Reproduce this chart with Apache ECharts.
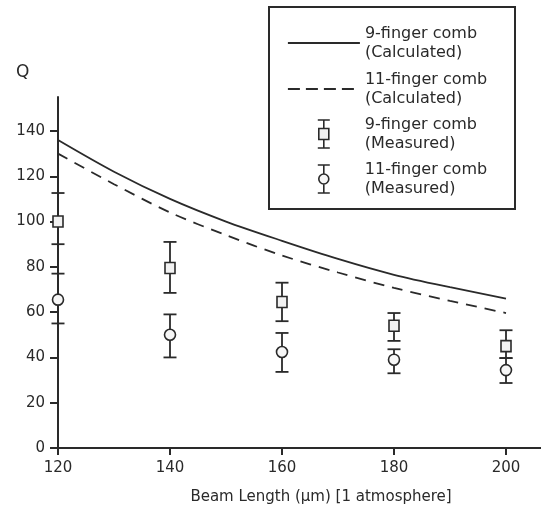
<!DOCTYPE html>
<html>
<head>
<meta charset="utf-8">
<script src="https://cdn.jsdelivr.net/npm/echarts@6/dist/echarts.min.js"></script>
<style>html,body{margin:0;padding:0;background:#fff;}#c{width:541px;height:513px;}</style>
</head>
<body>
<div id="c"></div>
<script>
// Calculated curves
const calcX = [120, 130, 140, 150, 160, 170, 180, 190, 200];
const nineCalc = [136, 122, 110, 100, 91.5, 83.5, 76.5, 71, 66];
const elevenCalc = [130, 116.5, 104, 94, 85, 77.5, 70.7, 65, 59.6];
// Measured points with error bars
const measX = [120, 140, 160, 180, 200];
const nineMeas = [100, 79.5, 64.5, 54, 45];
const nineLow = [90, 68.5, 56, 47.3, 39.7];
const nineHigh = [112.6, 91, 73, 59.6, 52];
const elevenMeas = [65.5, 50, 42.4, 39, 34.4];
const elevenLow = [55, 40, 33.6, 33, 28.7];
const elevenHigh = [77, 59, 50.8, 43.6, 39.7];
// Ticks
const xTicks = [120, 140, 160, 180, 200];
const yTicks = [0, 20, 40, 60, 80, 100, 120, 140];

const names = ['9-finger comb\n(Calculated)', '11-finger comb\n(Calculated)', '9-finger comb\n(Measured)', '11-finger comb\n(Measured)'];
const ink = '#2a2a2a';
const font = 'DejaVu Sans';

function errItem(shape) {
  return function (params, api) {
    const x = api.value(0);
    const p = api.coord([x, api.value(1)]);
    const pl = api.coord([x, api.value(2)]);
    const ph = api.coord([x, api.value(3)]);
    const cw = 6.5;
    const st = { stroke: ink, lineWidth: 1.8, fill: null };
    const children = [
      { type: 'line', shape: { x1: pl[0], y1: pl[1], x2: ph[0], y2: ph[1] }, style: st },
      { type: 'line', shape: { x1: pl[0] - cw, y1: pl[1], x2: pl[0] + cw, y2: pl[1] }, style: st },
      { type: 'line', shape: { x1: ph[0] - cw, y1: ph[1], x2: ph[0] + cw, y2: ph[1] }, style: st }
    ];
    if (shape === 'rect') {
      children.push({ type: 'rect', shape: { x: p[0] - 5, y: p[1] - 5.5, width: 10, height: 11 }, style: { stroke: ink, lineWidth: 1.6, fill: '#f2f2f2' } });
    } else {
      children.push({ type: 'circle', shape: { cx: p[0], cy: p[1], r: 5.5 }, style: { stroke: ink, lineWidth: 1.6, fill: '#f7f7f7' } });
    }
    return { type: 'group', children: children };
  };
}

// Legend icon paths in 72x30 box (corner moves fix the box)
const sqIcon = 'path://M0 0M72 30M30 1L42 1M36 1L36 9.5M31 9.5L41 9.5L41 20.5L31 20.5ZM36 20.5L36 29M30 29L42 29';
const ciIcon = 'path://M0 0M72 30M30 1L42 1M36 1L36 10M36 20L36 29M30 29L42 29M41 15A5 5 0 1 1 31 15A5 5 0 1 1 41 15Z';

const chart = echarts.init(document.getElementById('c'), null, { renderer: 'canvas' });
const legendText = { fontFamily: font, fontSize: 16, color: ink, lineHeight: 19 };
const hiddenSym = { color: 'rgba(0,0,0,0)', borderColor: 'rgba(0,0,0,0)', borderWidth: 0, opacity: 0 };
function lg(i, top, extra) {
  return Object.assign({
    left: 287, top: top, orient: 'vertical', padding: 0, selectedMode: false,
    itemWidth: 72, itemHeight: 14, textStyle: legendText, data: [names[i]]
  }, extra || {});
}

chart.setOption({
  animation: false,
  backgroundColor: '#fff',
  grid: { left: 58, right: 0, top: 97, bottom: 65 },
  xAxis: {
    type: 'value', min: 120, max: 206.25,
    axisLine: { lineStyle: { color: ink, width: 2 } },
    axisTick: { length: 7, lineStyle: { color: ink, width: 2 }, customValues: xTicks },
    axisLabel: { customValues: xTicks, margin: 13, fontFamily: font, fontSize: 15, color: ink },
    splitLine: { show: false }
  },
  yAxis: {
    type: 'value', min: 0, max: 155,
    axisLine: { show: true, lineStyle: { color: ink, width: 2 } },
    axisTick: { show: true, length: 8, lineStyle: { color: ink, width: 2 }, customValues: yTicks },
    axisLabel: { customValues: yTicks, margin: 13, fontFamily: font, fontSize: 15, color: ink },
    splitLine: { show: false }
  },
  legend: [
    lg(0, 24, { itemStyle: hiddenSym, lineStyle: { color: ink, width: 1.8, type: 'solid' } }),
    lg(1, 70, { itemStyle: hiddenSym, lineStyle: { color: ink, width: 1.8, type: [12, 6] } }),
    lg(2, 115, { itemHeight: 30, data: [{ name: names[2], icon: sqIcon, itemStyle: { color: '#f2f2f2', borderColor: ink, borderWidth: 1.6 } }] }),
    lg(3, 160, { itemHeight: 30, data: [{ name: names[3], icon: ciIcon, itemStyle: { color: '#f7f7f7', borderColor: ink, borderWidth: 1.6 } }] })
  ],
  graphic: [
    { type: 'rect', shape: { x: 269, y: 7, width: 246, height: 202 }, style: { fill: null, stroke: ink, lineWidth: 2 }, z: 100 },
    { type: 'text', left: 16, top: 64, style: { text: 'Q', fontFamily: font, fontSize: 17, fill: ink } },
    { type: 'text', x: 321, y: 497, style: { text: 'Beam Length (μm) [1 atmosphere]', fontFamily: font, fontSize: 15, fill: ink, align: 'center', verticalAlign: 'middle' } }
  ],
  series: [
    { name: names[0], type: 'line', data: calcX.map((x, i) => [x, nineCalc[i]]), smooth: 0.3, showSymbol: false, symbol: 'none',
      lineStyle: { color: ink, width: 1.8, type: 'solid' }, itemStyle: { color: ink } },
    { name: names[1], type: 'line', data: calcX.map((x, i) => [x, elevenCalc[i]]), smooth: 0.3, showSymbol: false, symbol: 'none',
      lineStyle: { color: ink, width: 1.8, type: [11, 8] }, itemStyle: { color: ink } },
    { name: names[2], type: 'custom', renderItem: errItem('rect'), data: measX.map((x, i) => [x, nineMeas[i], nineLow[i], nineHigh[i]]), itemStyle: { color: ink }, z: 3 },
    { name: names[3], type: 'custom', renderItem: errItem('circle'), data: measX.map((x, i) => [x, elevenMeas[i], elevenLow[i], elevenHigh[i]]), itemStyle: { color: ink }, z: 3 }
  ]
});
</script>
</body>
</html>
